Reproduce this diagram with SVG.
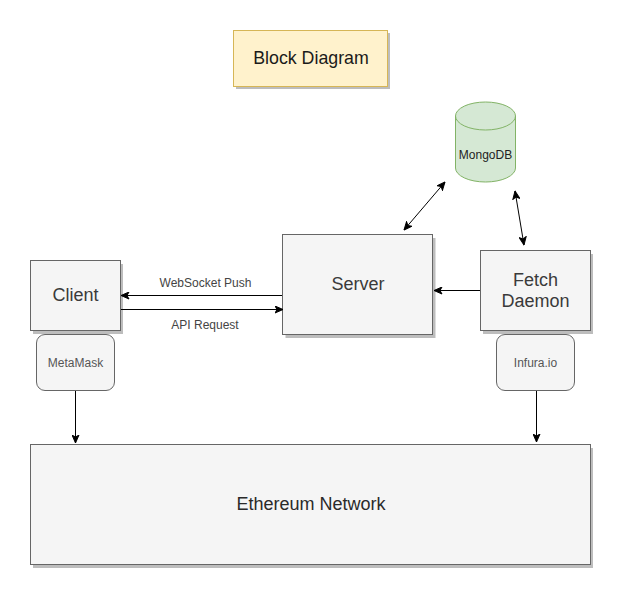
<svg xmlns="http://www.w3.org/2000/svg" width="623" height="598" viewBox="0 0 623 598">
<style>
text{font-family:"Liberation Sans",Arial,sans-serif;text-anchor:middle}
.box{fill:#f5f5f5;stroke:#666;stroke-width:1}
.shadow{fill:#bdbdbd}
.dark{fill:#3a3a3a}
.c{fill:none;stroke:#000;stroke-width:1}
</style>
<defs>
<marker id="arrow" viewBox="0 0 9 8" refX="8.5" refY="4" markerWidth="9" markerHeight="8" markerUnits="userSpaceOnUse" orient="auto-start-reverse"><path d="M0.5 0.5L8.5 4L0.5 7.5L2.5 4Z" fill="#000" stroke="#000" stroke-width="1"/></marker>
</defs>
<rect width="623" height="598" fill="#fff"/>
<g id="title"><rect class="shadow" x="236" y="33" width="154" height="56"/><rect x="233.500" y="30.500" width="154" height="56" fill="#fff2cc" stroke="#d6b656"/><text x="311" y="64" font-size="17.800" fill="#1a1a1a">Block Diagram</text></g>
<g id="mongodb"><path d="M455.500 116A30 14 0 0 1 515.500 116V168A30 14 0 0 1 455.500 168Z" fill="#d5e8d4" stroke="#82b366"/><path d="M455.500 116A30 14 0 0 0 515.500 116" fill="none" stroke="#82b366"/><text x="485.500" y="159" font-size="12" fill="#222">MongoDB</text></g>
<g id="server"><rect class="shadow" x="285.500" y="238" width="150" height="100"/><rect class="box" x="282.500" y="234.500" width="150" height="100"/><text class="dark" x="358" y="290" font-size="18">Server</text></g>
<g id="client"><rect class="shadow" x="33" y="264" width="90" height="70"/><rect class="box" x="30.500" y="260.500" width="90" height="70"/><text class="dark" x="75.500" y="301" font-size="18">Client</text></g>
<g id="fetch"><rect class="shadow" x="483" y="254" width="110" height="80"/><rect class="box" x="480.500" y="250.500" width="110" height="80"/><text class="dark" x="535.500" y="286" font-size="18">Fetch</text><text class="dark" x="535.500" y="307" font-size="18">Daemon</text></g>
<g id="metamask"><rect class="box" x="36.500" y="334.500" width="78" height="56" rx="8.500"/><text x="75.500" y="367" font-size="12" fill="#555">MetaMask</text></g>
<g id="infura"><rect class="box" x="496.500" y="334.500" width="78" height="56" rx="8.500"/><text x="535.500" y="367" font-size="12" fill="#555">Infura.io</text></g>
<g id="ethereum"><rect class="shadow" x="33" y="448" width="560" height="120"/><rect class="box" x="30.500" y="444.500" width="560" height="120"/><text x="311" y="510" font-size="18" fill="#2a2a2a">Ethereum Network</text></g>
<g id="connectors">
<path class="c" d="M404 230L445 182" marker-start="url(#arrow)" marker-end="url(#arrow)"/>
<path class="c" d="M524 245L515 191" marker-start="url(#arrow)" marker-end="url(#arrow)"/>
<path class="c" d="M282 295.500H121" marker-end="url(#arrow)"/>
<path class="c" d="M121 309.500H283" marker-end="url(#arrow)"/>
<path class="c" d="M480 290.500H434" marker-end="url(#arrow)"/>
<path class="c" d="M75.500 391V443" marker-end="url(#arrow)"/>
<path class="c" d="M536.500 391V442" marker-end="url(#arrow)"/>
</g>
<g id="labels" font-size="12" fill="#444"><text x="205.500" y="287">WebSocket Push</text><text x="205" y="329">API Request</text></g>
</svg>
